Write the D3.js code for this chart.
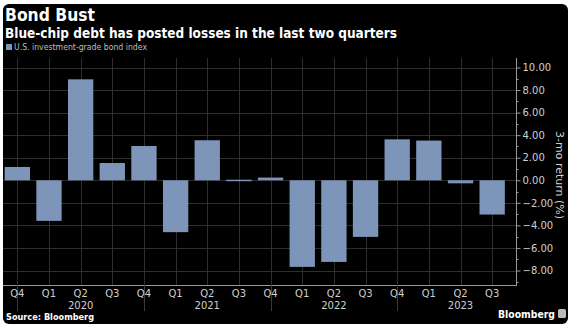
<!DOCTYPE html>
<html><head><meta charset="utf-8">
<script src="https://cdn.jsdelivr.net/npm/d3@7/dist/d3.min.js"></script>
<style>body{margin:0;background:#fff;}svg{display:block;}</style>
</head><body><svg id="c" width="572" height="327"></svg>
<script>
const quarters = ["Q4","Q1","Q2","Q3","Q4","Q1","Q2","Q3","Q4","Q1","Q2","Q3","Q4","Q1","Q2","Q3"];
const years = ["2019","2020","2020","2020","2020","2021","2021","2021","2021","2022","2022","2022","2022","2023","2023","2023"];
const returns = [1.18,-3.6,8.95,1.53,3.04,-4.6,3.55,0.05,0.24,-7.68,-7.24,-5.02,3.63,3.52,-0.27,-3.04];
const yTicks = [10,8,6,4,2,0,-2,-4,-6,-8];
const yearLabels = ["2020","2021","2022","2023"];

const svg = d3.select("#c");
svg.append("rect").attr("x",3).attr("y",4).attr("width",565).attr("height",320).attr("rx",6).attr("fill","#000");

const keys = quarters.map((q,i)=>i);
const x = d3.scaleBand().domain(keys).range([1.5,508]).paddingInner(0.2).paddingOuter(0.1);
const y = d3.scaleLinear().domain([-8,10]).range([270.5,67.5]);
const plotTop = 58, plotBottom = 285, axisX = 516;

const g = svg.append("g");
g.selectAll("line.h").data(yTicks).join("line")
  .attr("x1",3).attr("x2",axisX).attr("y1",d=>Math.round(y(d))+0.5).attr("y2",d=>Math.round(y(d))+0.5)
  .attr("stroke","#2e2e2e").attr("stroke-width",1);
g.selectAll("line.v").data(keys).join("line")
  .attr("x1",d=>Math.round(x(d)+x.bandwidth()/2)+0.5).attr("x2",d=>Math.round(x(d)+x.bandwidth()/2)+0.5)
  .attr("y1",plotTop).attr("y2",plotBottom)
  .attr("stroke","#2e2e2e").attr("stroke-width",1);

svg.append("g").selectAll("rect").data(returns).join("rect")
  .attr("x",(d,i)=>x(i)).attr("width",x.bandwidth())
  .attr("y",d=>y(Math.max(0,d))).attr("height",d=>Math.max(1.5,Math.abs(y(d)-y(0))))
  .attr("fill","#7d95b9");

svg.append("line").attr("x1",3).attr("x2",axisX).attr("y1",plotBottom+0.5).attr("y2",plotBottom+0.5)
  .attr("stroke","#9a9a9a").attr("stroke-width",1);
svg.append("g").selectAll("line").data(keys.filter(i=>quarters[i]==="Q4")).join("line")
  .attr("x1",d=>Math.round(x(d)+x.bandwidth()/2)+0.5).attr("x2",d=>Math.round(x(d)+x.bandwidth()/2)+0.5)
  .attr("y1",plotBottom).attr("y2",311).attr("stroke","#3a3a3a");

svg.append("g").selectAll("text").data(keys).join("text")
  .attr("x",d=>x(d)+x.bandwidth()/2).attr("y",297).attr("text-anchor","middle")
  .attr("font-family","DejaVu Sans").attr("font-size",10).attr("fill","#cfcfcf")
  .text(d=>quarters[d]);
svg.append("g").selectAll("text").data(yearLabels).join("text")
  .attr("x",yr=>{const i=keys.find(k=>years[k]===yr && quarters[k]==="Q2");return x(i)+x.bandwidth()/2;})
  .attr("y",309).attr("text-anchor","middle")
  .attr("font-family","DejaVu Sans").attr("font-size",10).attr("fill","#cfcfcf")
  .text(d=>d);

const ya = svg.append("g").attr("transform",`translate(${axisX+0.5},0)`)
  .call(d3.axisRight(y).tickValues(yTicks).tickFormat(d=>d3.format(".2f")(d)).tickSize(4).tickPadding(2));
ya.select(".domain").remove();
ya.selectAll(".tick line").attr("stroke","#9a9a9a");
ya.selectAll(".tick text").attr("font-family","DejaVu Sans").attr("font-size",10).attr("fill","#cfcfcf");
svg.append("g").selectAll("line").data(d3.range(-9,11,2)).join("line")
  .attr("x1",axisX).attr("x2",axisX+2.5).attr("y1",d=>Math.round(y(d))+0.5).attr("y2",d=>Math.round(y(d))+0.5)
  .attr("stroke","#9a9a9a");
svg.append("line").attr("x1",axisX+0.5).attr("x2",axisX+0.5).attr("y1",plotTop).attr("y2",plotBottom+1)
  .attr("stroke","#9a9a9a");

svg.append("text").attr("transform","translate(556,175) rotate(90)").attr("text-anchor","middle")
  .attr("font-family","DejaVu Sans").attr("font-size",11).attr("fill","#cfcfcf").text("3-mo return (%)");

svg.append("text").attr("x",5).attr("y",21).attr("font-family","DejaVu Sans").attr("font-weight","bold")
  .attr("font-size",17).attr("fill","#fff").attr("textLength",90).attr("lengthAdjust","spacingAndGlyphs").text("Bond Bust");
svg.append("text").attr("x",5).attr("y",38).attr("font-family","DejaVu Sans").attr("font-weight","bold")
  .attr("font-size",13.5).attr("fill","#fff").attr("textLength",392).attr("lengthAdjust","spacingAndGlyphs")
  .text("Blue-chip debt has posted losses in the last two quarters");
svg.append("rect").attr("x",6).attr("y",44).attr("width",6).attr("height",6).attr("fill","#7d95b9");
svg.append("text").attr("x",14).attr("y",50).attr("font-family","DejaVu Sans").attr("font-size",8.5)
  .attr("fill","#bdbdbd").attr("textLength",133).attr("lengthAdjust","spacingAndGlyphs").text("U.S. investment-grade bond index");

svg.append("text").attr("x",6).attr("y",320).attr("font-family","DejaVu Sans").attr("font-weight","bold")
  .attr("font-size",9).attr("fill","#fff").attr("textLength",88).attr("lengthAdjust","spacingAndGlyphs").text("Source: Bloomberg");
svg.append("text").attr("x",498).attr("y",318).attr("font-family","DejaVu Sans").attr("font-weight","bold")
  .attr("font-size",11).attr("fill","#fff").attr("textLength",57).attr("lengthAdjust","spacingAndGlyphs").text("Bloomberg");
svg.append("rect").attr("x",558).attr("y",309).attr("width",8).attr("height",9).attr("rx",1.5).attr("fill","#bbb");
</script></body></html>
